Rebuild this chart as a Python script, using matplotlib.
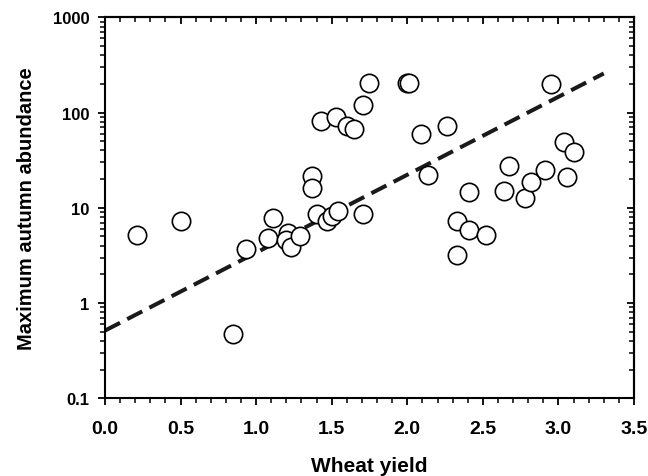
import matplotlib
matplotlib.use("Agg")
import matplotlib.pyplot as plt
import numpy as np
from matplotlib.ticker import MultipleLocator, LogLocator, FixedLocator, FixedFormatter, NullFormatter

wheat_yield = [0.21, 0.50, 0.85, 0.93, 1.08, 1.11, 1.21, 1.20, 1.23, 1.29,
               1.37, 1.37, 1.40, 1.43, 1.47, 1.50, 1.54, 1.53, 1.60, 1.65,
               1.71, 1.71, 1.75, 2.00, 2.01, 2.09, 2.26, 2.14, 2.33, 2.33,
               2.41, 2.41, 2.52, 2.64, 2.67, 2.78, 2.82, 2.91, 2.95, 3.04,
               3.06, 3.10]
abundance = [5.2, 7.3, 0.47, 3.7, 4.8, 7.8, 5.5, 4.6, 3.9, 5.0,
             21.4, 16.0, 8.6, 82, 7.3, 8.3, 9.3, 89, 73, 67,
             119, 8.6, 202, 202, 202, 59, 72, 22, 7.2, 3.2,
             14.8, 5.8, 5.2, 15.1, 27.3, 12.6, 18.5, 24.9, 200, 48.7,
             21.2, 39.0]

# regression line: log10(y) = a + b*x
fit_intercept = 0.514
fit_slope_log10 = 0.818
fit_x_range = [0.0, 3.3]

y_ticks = [0.1, 1, 10, 100, 1000]
y_tick_labels = ["0.1", "1", "10", "100", "1000"]
x_ticks = [0.0, 0.5, 1.0, 1.5, 2.0, 2.5, 3.0, 3.5]
x_tick_labels = ["0.0", "0.5", "1.0", "1.5", "2.0", "2.5", "3.0", "3.5"]

plt.rcParams['font.family'] = ['Liberation Sans', 'DejaVu Sans']
plt.rcParams['font.weight'] = 'bold'

fig = plt.figure(figsize=(6.48, 4.77), dpi=100)
ax = fig.add_axes([105/648, 1 - 399.3/477, (634-105)/648, (399.3-18.3)/477])

fx = np.linspace(fit_x_range[0], fit_x_range[1], 50)
fy = fit_intercept * 10 ** (fit_slope_log10 * fx)
ax.plot(fx, fy, color='#1a1a1a', lw=2.9, dashes=(4.2, 2.0), zorder=2)

ax.plot(wheat_yield, abundance, linestyle='none', marker='o', markersize=13.2,
        markerfacecolor='white', markeredgecolor='black', markeredgewidth=1.2, zorder=3)

ax.set_yscale('log')
ax.set_xlim(0, 3.5)
ax.set_ylim(0.1, 1000)

ax.xaxis.set_major_locator(FixedLocator(x_ticks))
ax.xaxis.set_major_formatter(FixedFormatter(x_tick_labels))
ax.xaxis.set_minor_locator(MultipleLocator(0.1))
ax.yaxis.set_major_locator(FixedLocator(y_ticks))
ax.yaxis.set_major_formatter(FixedFormatter(y_tick_labels))
ax.yaxis.set_minor_locator(LogLocator(base=10, subs=np.arange(2, 10), numticks=20))
ax.yaxis.set_minor_formatter(NullFormatter())

for s in ax.spines.values():
    s.set_linewidth(1.5)

ax.tick_params(axis='both', which='major', direction='out', length=5, width=1.3)
ax.tick_params(axis='both', which='minor', direction='out', length=3.5, width=1.1)
ax.tick_params(axis='y', which='major', labelsize=12, pad=6)
ax.tick_params(axis='x', which='major', labelsize=14, pad=10.5)

# mirrored ticks on top and right, pointing inward
top = ax.secondary_xaxis('top')
top.xaxis.set_major_locator(FixedLocator(x_ticks))
top.xaxis.set_minor_locator(MultipleLocator(0.1))
top.tick_params(which='major', direction='in', length=5, width=1.3, labeltop=False)
top.tick_params(which='minor', direction='in', length=3.5, width=1.1)
top.spines['top'].set_linewidth(1.5)

right = ax.secondary_yaxis('right')
right.yaxis.set_major_locator(FixedLocator(y_ticks))
right.yaxis.set_minor_locator(LogLocator(base=10, subs=np.arange(2, 10), numticks=20))
right.yaxis.set_minor_formatter(NullFormatter())
right.tick_params(which='major', direction='in', length=5, width=1.3, labelright=False)
right.tick_params(which='minor', direction='in', length=3.5, width=1.1)
right.spines['right'].set_linewidth(1.5)

ax.set_xlabel("Wheat yield", fontsize=15, fontweight='bold', labelpad=14)
ax.set_ylabel("Maximum autumn abundance", fontsize=14.5, fontweight='bold', labelpad=12)

fig.savefig("out.png", dpi=100)
